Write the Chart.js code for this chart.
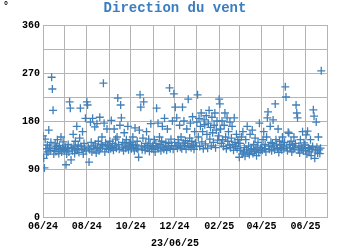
<!DOCTYPE html>
<html>
<head>
<meta charset="utf-8">
<script src="https://cdn.jsdelivr.net/npm/chart.js@4/dist/chart.umd.min.js"></script>
<style>
  body { margin: 0; background: #fff; }
</style>
</head>
<body>
<canvas id="ventCanvas" width="350" height="250"></canvas>
<script>
// wind direction in degrees, one value per day from 01/06/24 to 23/06/25
const jun24 = [152,110,92,146,128,118,135,122,163,131,125,140,262,240,200,118,128,137,123,132,145,126,119,134,128,150,122,130,141,127];
const jul24 = [125,131,98,118,128,136,122,216,204,107,130,124,155,133,119,142,128,170,126,135,121,148,204,132,127,160,118,138,129,185,124];
const aug24 = [216,210,131,103,126,178,140,122,185,133,128,169,137,120,175,130,142,124,187,128,136,150,133,251,176,122,139,129,165,134,127];
const sep24 = [135,142,128,181,130,138,125,165,133,146,129,150,223,136,127,172,210,186,131,140,124,158,137,129,145,132,170,126,139,133];
const oct24 = [140,128,136,150,131,124,167,135,129,142,127,112,163,229,206,133,126,148,216,131,125,138,160,129,134,146,123,137,175,128,132];
const nov24 = [134,127,145,122,138,204,131,176,129,150,136,124,142,170,131,127,185,133,140,125,165,131,138,242,128,146,134,180,127,231];
const dec24 = [140,206,133,186,129,145,137,172,131,150,128,206,139,180,134,143,127,165,138,221,132,148,176,130,142,188,135,127,160,139,133];
const jan25 = [178,229,150,185,132,170,195,141,160,128,182,173,137,190,155,129,176,200,146,168,133,187,158,140,172,195,130,163,180,144,152];
const feb25 = [221,212,165,138,180,145,132,172,195,150,128,186,142,160,135,178,130,148,170,136,125,186,140,132,155,128,145,138];
const mar25 = [112,138,125,150,118,160,122,130,114,145,126,170,120,133,117,155,124,128,163,119,136,123,148,127,115,131,140,121,176,125,130];
const apr25 = [130,125,145,160,128,136,122,150,186,197,133,127,170,140,124,138,182,131,126,212,145,135,128,165,121,142,130,136,126,150];
const may25 = [133,128,140,244,225,131,124,159,157,136,129,142,122,135,127,150,130,138,210,195,186,126,133,120,145,131,128,160,124,139,135];
const jun25 = [125,154,118,161,130,122,128,145,115,127,132,201,189,110,124,178,131,120,150,126,119,129,274];

// day offsets of each month start (0 = 01/06/24)
const monthStarts = [0,30,61,92,122,153,183,214,245,273,304,334,365,395];
const monthLabels = ["06/24","","08/24","","10/24","","12/24","","02/25","","04/25","","06/25",""];
const yTicks = [0,45,90,135,180,225,270,315,360];

const windDir = [].concat(jun24, jul24, aug24, sep24, oct24, nov24, dec24, jan25, feb25, mar25, apr25, may25, jun25);
const points = windDir.map((v, i) => ({ x: i, y: v }));

const textPlugin = {
  id: "texts",
  afterDraw(chart) {
    const ctx = chart.ctx;
    ctx.save();
    ctx.textAlign = "center";
    ctx.textBaseline = "middle";
    ctx.fillStyle = "#3a7dc0";
    ctx.font = "bold 14px 'Liberation Mono'";
    ctx.fillText("Direction du vent", 175, 8);
    ctx.fillStyle = "#000";
    ctx.font = "bold 10px 'Liberation Mono'";
    ctx.fillText("23/06/25", 175, 243);
    ctx.fillText("°", 6, 6);
    ctx.restore();
  }
};

const tickFont = { family: "'Liberation Mono'", size: 10, weight: "bold" };

new Chart(document.getElementById("ventCanvas"), {
  type: "scatter",
  data: {
    datasets: [{
      data: points,
      pointStyle: "cross",
      radius: 4,
      borderWidth: 1.3,
      borderColor: "rgb(65,128,185)",
      backgroundColor: "rgb(65,128,185)"
    }]
  },
  options: {
    responsive: false,
    animation: false,
    layout: { padding: { top: 25, right: 23, left: 0, bottom: 0 } },
    plugins: { legend: { display: false }, tooltip: { enabled: false } },
    scales: {
      x: {
        type: "linear",
        min: 0,
        max: 395,
        afterBuildTicks: (axis) => { axis.ticks = monthStarts.map(v => ({ value: v })); },
        afterFit: (axis) => { axis.height = 33; },
        ticks: {
          autoSkip: false,
          maxRotation: 0,
          padding: 3,
          color: "#000",
          font: tickFont,
          callback: (v) => monthLabels[monthStarts.indexOf(v)]
        },
        grid: { color: "#b4b4b4", lineWidth: 1, drawTicks: false },
        border: { color: "#b4b4b4" }
      },
      y: {
        min: 0,
        max: 360,
        afterBuildTicks: (axis) => { axis.ticks = yTicks.map(v => ({ value: v })); },
        afterFit: (axis) => { axis.width = 43; },
        ticks: {
          padding: 3,
          color: "#000",
          font: tickFont,
          callback: (v) => (v % 90 === 0 ? v : "")
        },
        grid: { color: "#b4b4b4", lineWidth: 1, drawTicks: false },
        border: { color: "#b4b4b4" }
      }
    }
  },
  plugins: [textPlugin]
});
</script>
</body>
</html>
